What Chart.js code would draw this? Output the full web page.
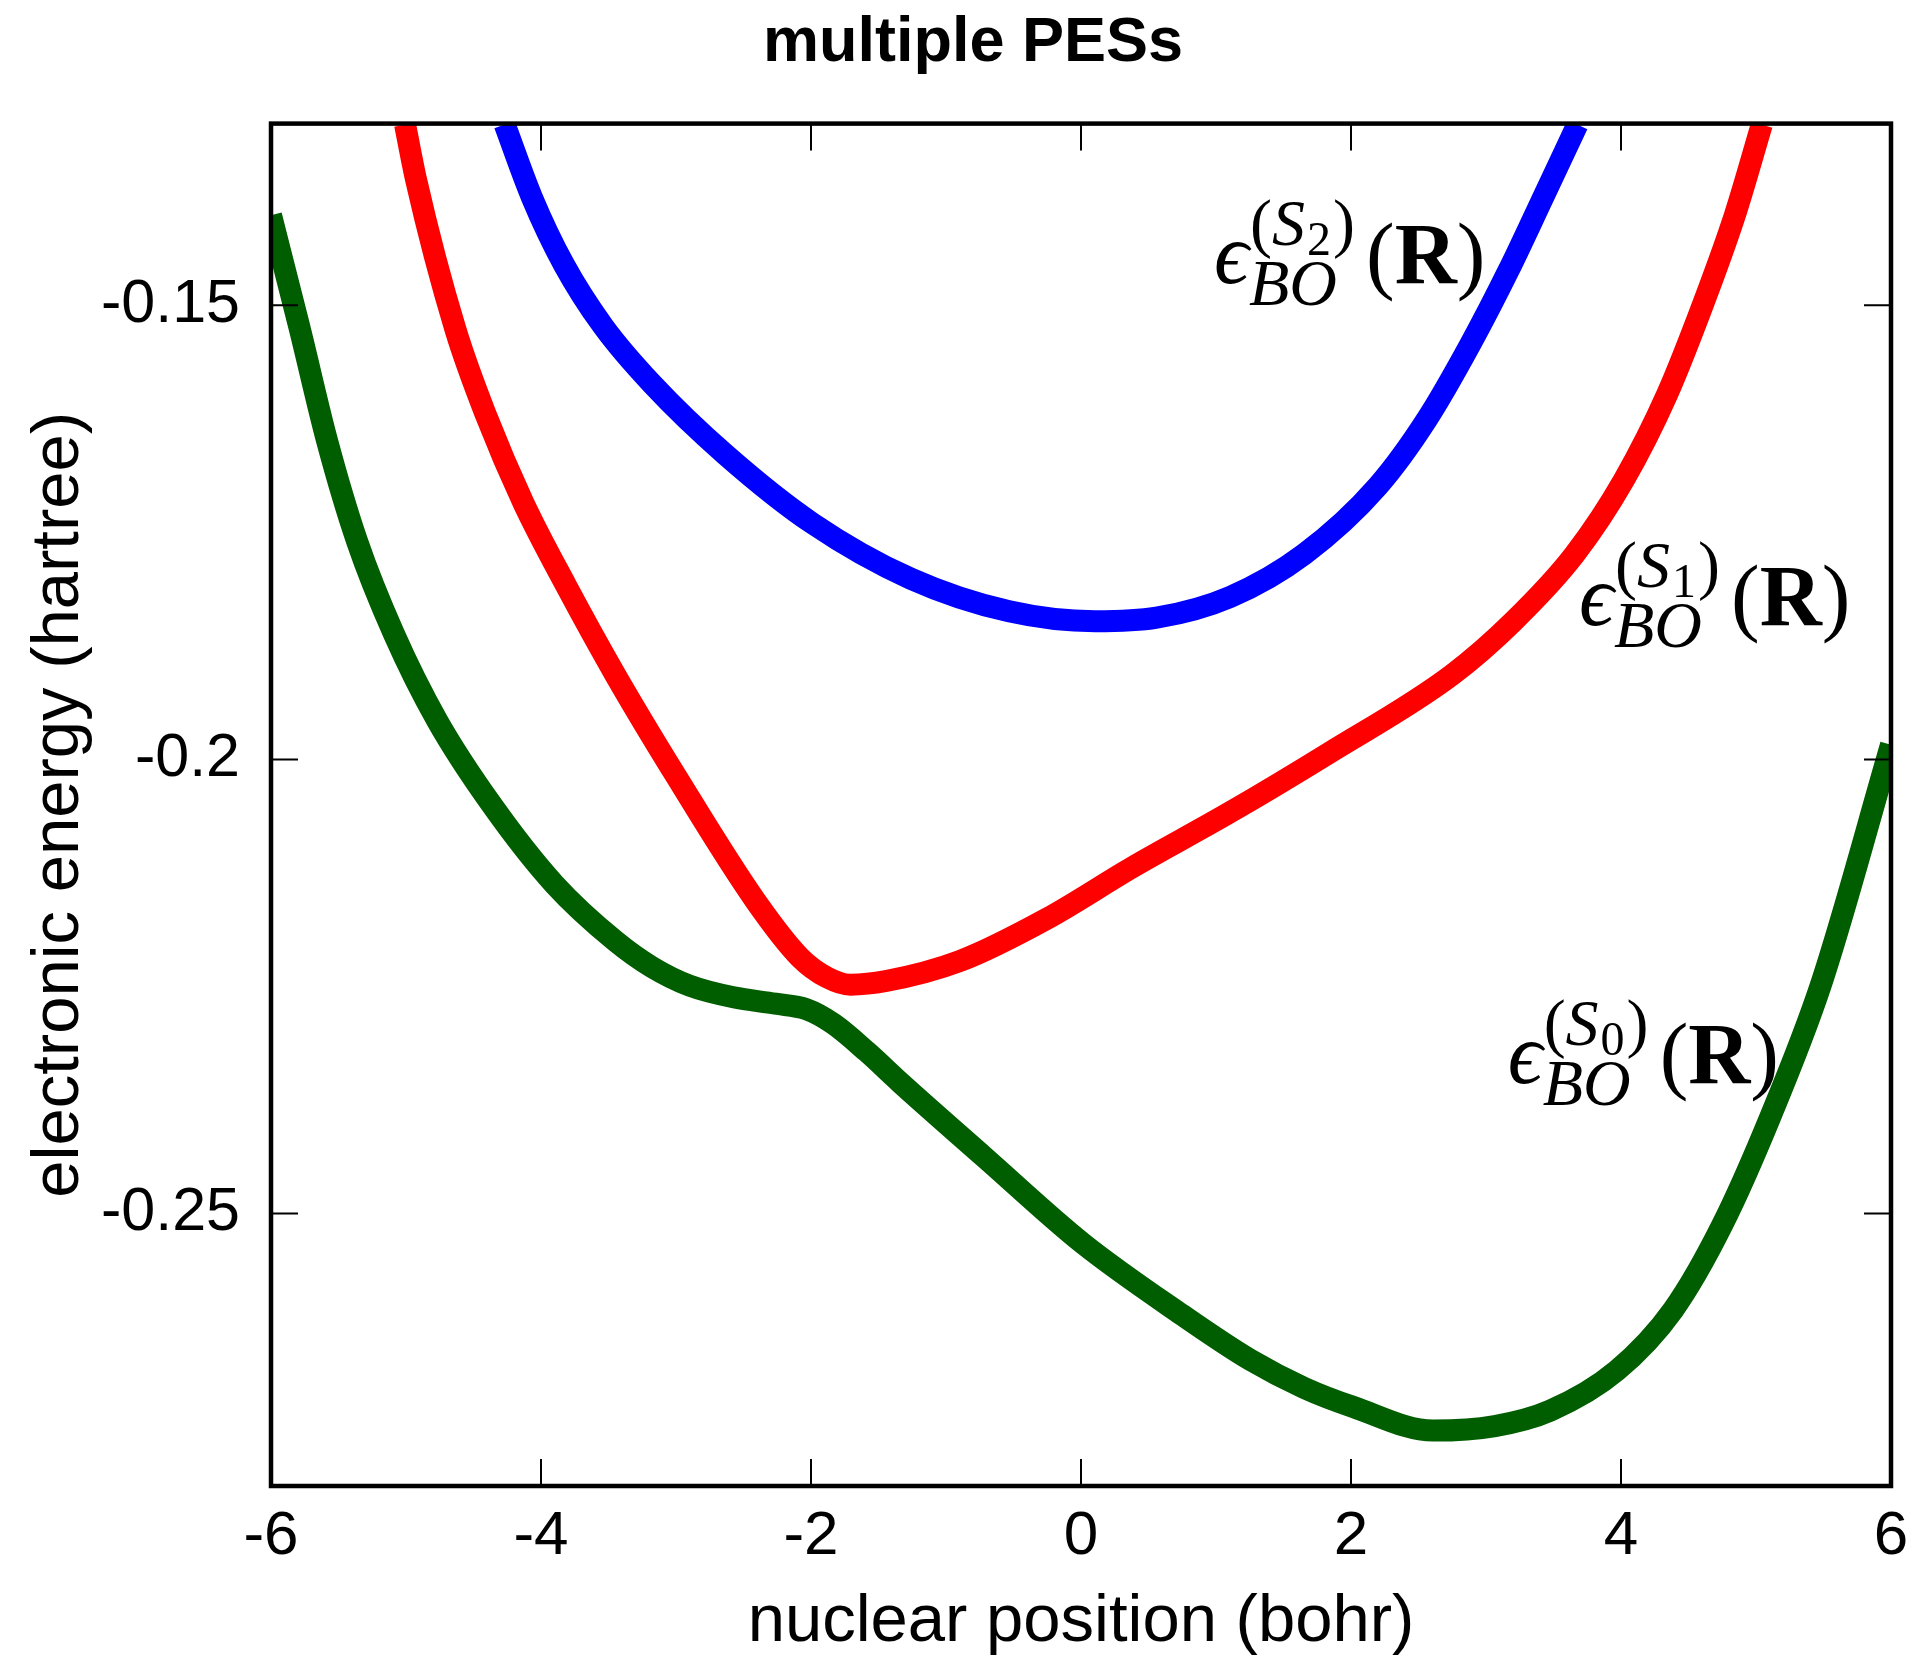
<!DOCTYPE html>
<html>
<head>
<meta charset="utf-8">
<script src="https://cdn.jsdelivr.net/npm/chart.js@4/dist/chart.umd.min.js"></script>
<style>
html,body{margin:0;padding:0;background:#fff;}
#wrap{width:1929px;height:1660px;}
</style>
</head>
<body>
<div id="wrap"><canvas id="c" width="1929" height="1660"></canvas></div>
<script>
// ---- data ----
const s0X = [-6.000, -5.790, -5.585, -5.362, -5.089, -4.770, -4.360, -3.904, -3.449, -3.175, -2.902, -2.574, -2.264, -2.036, -1.836, -1.585, -1.338, -0.715, 0.014, 0.743, 1.253, 1.654, 2.018, 2.610, 3.066, 3.476, 3.968, 4.387, 4.752, 5.116, 5.481, 6.000];
const s0Y = [-0.1401, -0.1524, -0.1649, -0.1760, -0.1862, -0.1957, -0.2051, -0.2137, -0.2200, -0.2229, -0.2249, -0.2262, -0.2269, -0.2275, -0.2291, -0.2322, -0.2356, -0.2438, -0.2533, -0.2611, -0.2661, -0.2692, -0.2713, -0.2739, -0.2734, -0.2717, -0.2673, -0.2606, -0.2512, -0.2390, -0.2248, -0.1984];

const s1X = [-5.007, -4.925, -4.633, -4.405, -4.132, -3.813, -3.449, -2.993, -2.410, -2.082, -1.882, -1.708, -1.444, -0.897, -0.260, 0.378, 1.107, 1.836, 2.747, 3.203, 3.658, 4.023, 4.342, 4.615, 4.843, 5.043];
const s1Y = [-0.1301, -0.1362, -0.1527, -0.1622, -0.1717, -0.1809, -0.1907, -0.2020, -0.2156, -0.2218, -0.2240, -0.2248, -0.2244, -0.2222, -0.2176, -0.2119, -0.2058, -0.1993, -0.1907, -0.1848, -0.1774, -0.1692, -0.1598, -0.1496, -0.1401, -0.1301];

const s2X = [-4.269, -4.068, -3.831, -3.540, -3.175, -2.629, -1.991, -1.262, -0.533, 0.105, 0.560, 1.107, 1.654, 2.200, 2.565, 2.884, 3.166, 3.421, 3.677];
const s2Y = [-0.1301, -0.1381, -0.1455, -0.1523, -0.1587, -0.1665, -0.1740, -0.1801, -0.1837, -0.1848, -0.1844, -0.1821, -0.1774, -0.1699, -0.1625, -0.1543, -0.1462, -0.1382, -0.1301];

const xTicks = [-6, -4, -2, 0, 2, 4, 6];
const yTicks = [-0.25, -0.2, -0.15];
const yTickLabels = ['-0.25', '-0.2', '-0.15'];

const stateNames = ['0', '1', '2'];
const labelX = [3.175, 3.704, 1.00];
const labelY = [-0.2356, -0.1852, -0.1476];

const titleText = 'multiple PESs';
const xTitle = 'nuclear position (bohr)';
const yTitle = 'electronic energy (hartree)';

// ---- build ----
const pts = (xs, ys) => xs.map((x, i) => ({x: x, y: ys[i]}));
const SANS = '"Liberation Sans", Arial, Helvetica, sans-serif';
const SERIF = '"Liberation Serif", "DejaVu Serif", "Times New Roman", serif';

const framePlugin = {
  id: 'frame',
  afterDatasetsDraw(chart) {
    const {ctx, chartArea: a, scales: {x, y}} = chart;
    ctx.save();
    ctx.strokeStyle = '#000';
    ctx.lineWidth = 2;
    const tl = 27;
    ctx.beginPath();
    for (const t of x.ticks) {
      const p = x.getPixelForValue(t.value);
      ctx.moveTo(p, a.bottom); ctx.lineTo(p, a.bottom - tl);
      ctx.moveTo(p, a.top); ctx.lineTo(p, a.top + tl);
    }
    for (const t of y.ticks) {
      const p = y.getPixelForValue(t.value);
      ctx.moveTo(a.left, p); ctx.lineTo(a.left + tl, p);
      ctx.moveTo(a.right, p); ctx.lineTo(a.right - tl, p);
    }
    ctx.stroke();
    ctx.lineWidth = 4.5;
    ctx.strokeRect(a.left, a.top, a.right - a.left, a.bottom - a.top);
    ctx.restore();
  }
};

function drawSeq(ctx, x, y, parts) {
  let cx = x;
  for (const p of parts) {
    ctx.font = p.font;
    ctx.fillText(p.t, cx + (p.dx || 0), y + (p.dy || 0));
    cx += ctx.measureText(p.t).width + (p.dx || 0);
  }
  return cx;
}

const mathLabelPlugin = {
  id: 'mathLabels',
  afterDatasetsDraw(chart) {
    const {ctx, scales: {x, y}} = chart;
    ctx.save();
    ctx.fillStyle = '#000';
    ctx.textBaseline = 'alphabetic';
    ctx.textAlign = 'left';
    for (let i = 0; i < stateNames.length; i++) {
      const px = x.getPixelForValue(labelX[i]);
      const py = y.getPixelForValue(labelY[i]);
      const M = 86, S = 66, SS = 48;
      drawSeq(ctx, px - 2, py, [{t: '\u03F5', font: 'italic ' + M + 'px ' + SERIF}]);
      drawSeq(ctx, px + 34, py - 38, [
        {t: '(', font: S + 'px ' + SERIF},
        {t: 'S', font: 'italic ' + S + 'px ' + SERIF},
        {t: stateNames[i], font: SS + 'px ' + SERIF, dy: 10, dx: 2},
        {t: ')', font: S + 'px ' + SERIF, dx: 2}
      ]);
      drawSeq(ctx, px + 33, py + 22, [{t: 'BO', font: 'italic ' + S + 'px ' + SERIF}]);
      drawSeq(ctx, px + 150, py, [
        {t: '(', font: M + 'px ' + SERIF},
        {t: 'R', font: 'bold ' + M + 'px ' + SERIF},
        {t: ')', font: M + 'px ' + SERIF}
      ]);
    }
    ctx.restore();
  }
};

const lineDs = (data, color) => ({
  data: data,
  borderColor: color,
  backgroundColor: color,
  borderWidth: 22,
  pointRadius: 0,
  pointHoverRadius: 0,
  fill: false,
  cubicInterpolationMode: 'monotone',
  borderCapStyle: 'butt',
  borderJoinStyle: 'round'
});

new Chart(document.getElementById('c'), {
  type: 'line',
  data: {
    datasets: [
      lineDs(pts(s0X, s0Y), '#005e00'),
      lineDs(pts(s1X, s1Y), '#ff0000'),
      lineDs(pts(s2X, s2Y), '#0000ff')
    ]
  },
  options: {
    responsive: false,
    animation: false,
    events: [],
    layout: {padding: {left: 55, right: 38, top: 0, bottom: 0}},
    plugins: {
      legend: {display: false},
      tooltip: {enabled: false},
      title: {
        display: true,
        text: titleText,
        color: '#000',
        font: {family: SANS, size: 63, weight: 'bold', lineHeight: 1.2},
        padding: {top: 6, bottom: 42}
      }
    },
    scales: {
      x: {
        type: 'linear',
        min: -6, max: 6,
        afterBuildTicks: s => { s.ticks = xTicks.map(v => ({value: v})); },
        afterFit: s => { s.height = 174; },
        ticks: {
          color: '#000',
          font: {family: SANS, size: 62, lineHeight: 1.2},
          padding: 14,
          maxRotation: 0,
          callback: v => String(v)
        },
        grid: {display: false, drawTicks: false},
        border: {display: false},
        title: {
          display: true, text: xTitle, color: '#000',
          font: {family: SANS, size: 67, lineHeight: 1.2},
          padding: {top: 0, bottom: -3}
        }
      },
      y: {
        type: 'linear',
        min: -0.28, max: -0.13,
        afterBuildTicks: s => { s.ticks = yTicks.map(v => ({value: v})); },
        afterFit: s => { s.width = 216; },
        ticks: {
          color: '#000',
          font: {family: SANS, size: 61, lineHeight: 1.2},
          padding: 31,
          callback: (v) => { const k = yTicks.indexOf(v); return k >= 0 ? yTickLabels[k] : String(v); }
        },
        grid: {display: false, drawTicks: false},
        border: {display: false},
        title: {
          display: true, text: yTitle, color: '#000',
          font: {family: SANS, size: 67, lineHeight: 1.2},
          padding: {top: -36, bottom: 0}
        }
      }
    }
  },
  plugins: [mathLabelPlugin, framePlugin]
});
</script>
</body>
</html>
